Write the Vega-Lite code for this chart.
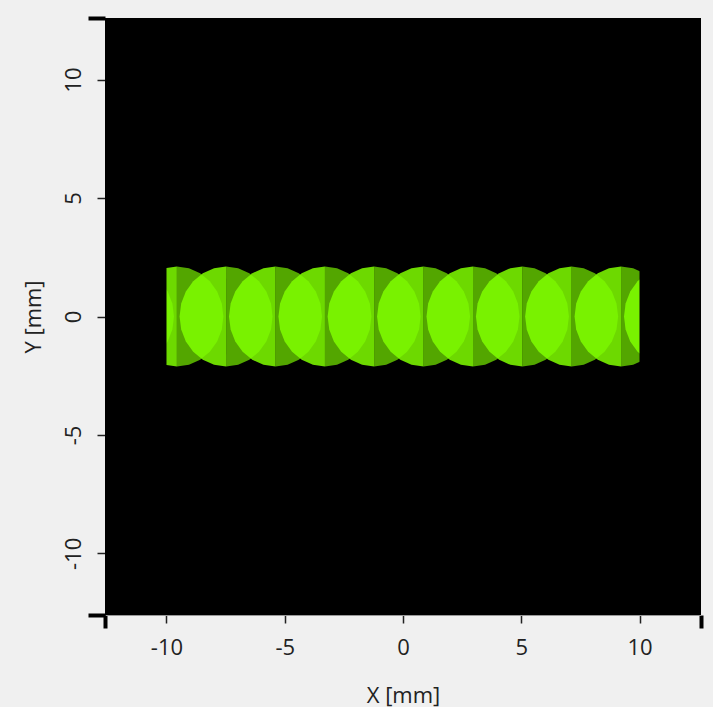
{
  "$schema": "https://vega.github.io/schema/vega-lite/v6.json",
  "width": 596,
  "height": 597,
  "autosize": "none",
  "padding": {"left": 105, "top": 18, "right": 12, "bottom": 92},
  "background": "#f0f0f0",
  "config": {
    "view": {"fill": "black", "stroke": null},
    "font": "Open Sans",
    "axis": {"grid": false, "labelFont": "Open Sans", "titleFont": "Open Sans", "labelColor": "#222222", "titleColor": "#222222", "labelFontSize": 22, "titleFontSize": 22, "titleFontWeight": "normal", "tickColor": "#222222", "domainColor": "#999999",
      "labelExpr": "abs(datum.value) > 12 ? '' : datum.value + ''"}
  },
  "datasets": {
    "spots": [
      {"x": -11.65, "y": 0}, {"x": -9.56, "y": 0}, {"x": -7.48, "y": 0}, {"x": -5.39, "y": 0},
      {"x": -3.30, "y": 0}, {"x": -1.22, "y": 0}, {"x": 0.87, "y": 0}, {"x": 2.96, "y": 0},
      {"x": 5.05, "y": 0}, {"x": 7.13, "y": 0}, {"x": 9.22, "y": 0}, {"x": 11.31, "y": 0}
    ],
    "masks": [
      {"x1": -12.6, "x2": -10, "y1": -12.6, "y2": 12.6},
      {"x1": 10, "x2": 12.6, "y1": -12.6, "y2": 12.6}
    ]
  },
  "layer": [
    {
      "data": {"name": "spots"},
      "mark": {"type": "point", "filled": true, "clip": true, "size": 10000, "color": "#80ff00", "opacity": 0.85, "strokeWidth": 0,
        "shape": "M 0 1 L -0.241 0.966 L -0.465 0.866 L -0.658 0.707 L -0.805 0.5 L -0.898 0.259 L -0.93 0 L -0.898 -0.259 L -0.805 -0.5 L -0.658 -0.707 L -0.465 -0.866 L -0.241 -0.966 L 0 -1 Z"},
      "encoding": {
        "x": {"field": "x", "type": "quantitative", "scale": {"domain": [-12.6, 12.6], "nice": false, "zero": false},
          "axis": {"values": [-12.6, -10, -5, 0, 5, 10, 12.6], "title": "X [mm]", "labelBaseline": "top", "labelPadding": 14, "titlePadding": 27,
            "tickSize": {"condition": {"test": "abs(datum.value) > 12", "value": 13}, "value": 8},
            "tickWidth": {"condition": {"test": "abs(datum.value) > 12", "value": 4}, "value": 1.5},
            "tickColor": {"condition": {"test": "abs(datum.value) > 12", "value": "#000000"}, "value": "#222222"}}},
        "y": {"field": "y", "type": "quantitative", "scale": {"domain": [-12.6, 12.6], "nice": false, "zero": false},
          "axis": {"values": [-12.6, -10, -5, 0, 5, 10, 12.6], "title": "Y [mm]", "labelAngle": 270, "labelAlign": "center", "labelBaseline": "alphabetic", "labelPadding": 17, "titlePadding": 17, "domainColor": "#000000",
            "tickSize": {"condition": {"test": "abs(datum.value) > 12", "value": 17}, "value": 8},
            "tickWidth": {"condition": {"test": "abs(datum.value) > 12", "value": 4}, "value": 1.5},
            "tickColor": {"condition": {"test": "abs(datum.value) > 12", "value": "#000000"}, "value": "#222222"}}}
      }
    },
    {
      "data": {"name": "spots"},
      "mark": {"type": "point", "filled": true, "clip": true, "size": 10000, "color": "#80ff00", "opacity": 0.65, "strokeWidth": 0,
        "shape": "M 0 -1 L 0.241 -0.966 L 0.465 -0.866 L 0.658 -0.707 L 0.805 -0.5 L 0.898 -0.259 L 0.93 0 L 0.898 0.259 L 0.805 0.5 L 0.658 0.707 L 0.465 0.866 L 0.241 0.966 L 0 1 Z"},
      "encoding": {
        "x": {"field": "x", "type": "quantitative"},
        "y": {"field": "y", "type": "quantitative"}
      }
    },
    {
      "data": {"name": "masks"},
      "mark": {"type": "rect", "color": "black"},
      "encoding": {
        "x": {"field": "x1", "type": "quantitative"},
        "x2": {"field": "x2"},
        "y": {"field": "y1", "type": "quantitative"},
        "y2": {"field": "y2"}
      }
    }
  ]
}
